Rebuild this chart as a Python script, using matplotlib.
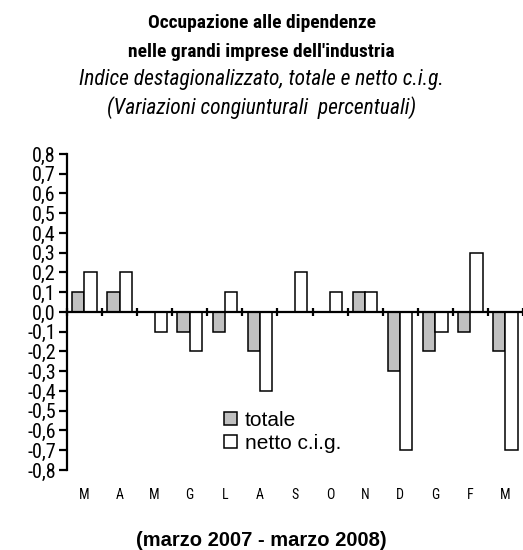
#!/usr/bin/env python3

import numpy as np
import matplotlib
matplotlib.use("Agg")
import matplotlib.pyplot as plt
from matplotlib import font_manager
import matplotlib.transforms as mtransforms

months = ["M", "A", "M", "G", "L", "A", "S", "O", "N", "D", "G", "F", "M"]
totale = [0.1, 0.1, 0.0, -0.1, -0.1, -0.2, 0.0, 0.0, 0.1, -0.3, -0.2, -0.1, -0.2]
netto = [0.2, 0.2, -0.1, -0.2, 0.1, -0.4, 0.2, 0.1, 0.1, -0.7, -0.1, 0.3, -0.7]
yticks = [-0.8, -0.7, -0.6, -0.5, -0.4, -0.3, -0.2, -0.1, 0.0, 0.1, 0.2, 0.3, 0.4, 0.5, 0.6, 0.7, 0.8]


def pick_font(names):
    installed = {f.name for f in font_manager.fontManager.ttflist}
    for n in names:
        if n in installed:
            return n
    return "DejaVu Sans"


def main():
    narrow = pick_font(["Liberation Sans Narrow", "Roboto Condensed", "Liberation Sans"])
    wide = pick_font(["Liberation Sans", "DejaVu Sans"])

    fig = plt.figure(figsize=(5.23, 5.5), dpi=100)
    ax = fig.add_axes([0.128, 0.1455, 0.872, 0.5745])

    x = np.arange(len(months))
    w = 0.35
    ax.bar(x - w / 2, totale, w, color="#c0c0c0", edgecolor="black", linewidth=1.1, label="totale")
    ax.bar(x + w / 2, netto, w, color="white", edgecolor="black", linewidth=1.1, label="netto c.i.g.")

    ax.set_xlim(-0.5, len(months) - 0.5)
    ax.set_ylim(-0.8, 0.8)

    for s in ["top", "right"]:
        ax.spines[s].set_visible(False)
    ax.spines["left"].set_linewidth(1.6)
    ax.spines["bottom"].set_position(("data", 0))
    ax.spines["bottom"].set_linewidth(1.6)

    ax.set_yticks(yticks)
    ax.set_yticklabels([f"{v:.1f}".replace(".", ",") for v in yticks],
                       fontfamily=narrow, fontsize=14.5)
    ax.tick_params(axis="y", direction="out", length=6, width=1.6, pad=2)

    ax.set_xticks(np.arange(len(months) + 1) - 0.5)
    ax.set_xticklabels([])
    ax.tick_params(axis="x", direction="inout", length=6, width=1.6)

    trans = mtransforms.blended_transform_factory(ax.transData, ax.transAxes)
    for i, m in enumerate(months):
        ax.text(x[i], -0.08, m, transform=trans, ha="center", va="center",
                fontfamily=narrow, fontsize=10)

    ax.legend(loc="upper left", bbox_to_anchor=(0.322, 0.22), frameon=False,
              prop={"family": wide, "size": 15}, handlelength=0.6, handleheight=0.6,
              handletextpad=0.4, labelspacing=0.2, borderpad=0)

    fig.text(0.5, 0.959, "Occupazione alle dipendenze", ha="center", va="center",
             fontfamily=narrow, fontsize=14, fontweight="bold")
    fig.text(0.5, 0.906, "nelle grandi imprese dell'industria", ha="center", va="center",
             fontfamily=narrow, fontsize=14, fontweight="bold")
    fig.text(0.5, 0.855, "Indice destagionalizzato, totale e netto c.i.g.", ha="center",
             va="center", fontfamily=narrow, fontsize=15.5, fontstyle="italic")
    fig.text(0.5, 0.804, "(Variazioni congiunturali  percentuali)", ha="center",
             va="center", fontfamily=narrow, fontsize=15.5, fontstyle="italic")
    fig.text(0.5, 0.017, "(marzo 2007 - marzo 2008)", ha="center", va="center",
             fontfamily=wide, fontsize=14.5, fontweight="bold")

    fig.savefig("out.png", dpi=100)


if __name__ == "__main__":
    main()
